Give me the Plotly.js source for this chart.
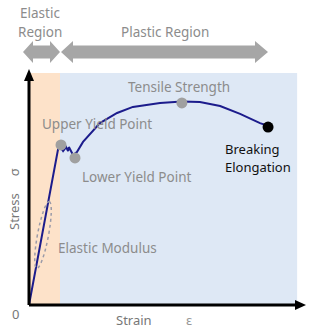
<!DOCTYPE html><html><head><meta charset="utf-8">
<script src="https://cdn.plot.ly/plotly-3.0.1.min.js"></script>
<style>html,body{margin:0;padding:0;background:#fff}#c{width:320px;height:335px}</style>
</head><body><div id="c"></div><script>
// Stress-strain curve (arbitrary units, 0-100)
const strain = [0,10.5,11.55,12.3,13.4,14.1,14.4,15.2,15.9,17.3,19.5,25.6,31.8,37.5,47.3,55.2,61.7,69.0,76.2,83.4,86.3];
const stress = [0,66.4,66.8,65.5,67.2,65.5,67.2,65.1,63.8,65.1,69.4,77.4,81.7,84.3,86.0,86.6,86.4,84.7,81.3,77.4,76.2];
const keyNames = ['Upper Yield Point','Lower Yield Point','Tensile Strength'];
const keyStrain = [11.55,16.6,55.2];
const keyStress = [68.1,62.6,86.0];
const breakStrain = [86.3];
const breakStress = [75.7];
const elasticEnd = 11.2, plasticEnd = 96.8, regionTop = 98.7;

const L=29, T=70, W=277, H=235;
const X = px => (px-L)/W, Y = py => (T+H-py)/H;
const pth = pts => 'M' + pts.map(p=>X(p[0])+','+Y(p[1])).join(' L') + ' Z';
function ellipsePath(cx,cy,a,b,ang){
  const k=0.5523, ca=Math.cos(ang), sa=Math.sin(ang);
  const P=(u,v)=>{const px=cx+u*ca-v*sa, py=cy+u*sa+v*ca; return X(px)+','+Y(py);};
  return `M${P(a,0)} C${P(a,k*b)} ${P(k*a,b)} ${P(0,b)} C${P(-k*a,b)} ${P(-a,k*b)} ${P(-a,0)} C${P(-a,-k*b)} ${P(-k*a,-b)} ${P(0,-b)} C${P(k*a,-b)} ${P(a,-k*b)} ${P(a,0)} Z`;
}
const gray='#a6a6a6', tgray='#8c8c8c', F='Noto Sans';
const shapes = [
  {type:'rect',xref:'x',yref:'y',x0:0,x1:elasticEnd,y0:0,y1:regionTop,fillcolor:'#fde2c9',line:{width:0},layer:'below'},
  {type:'rect',xref:'x',yref:'y',x0:elasticEnd,x1:plasticEnd,y0:0,y1:regionTop,fillcolor:'#dee8f5',line:{width:0},layer:'below'},
  {type:'path',xref:'paper',yref:'paper',path:pth([[23,52],[33,41],[33,45.5],[50,45.5],[50,41],[60,52],[50,63],[50,58.5],[33,58.5],[33,63]]),fillcolor:gray,line:{width:0}},
  {type:'path',xref:'paper',yref:'paper',path:pth([[61,52],[73,41],[73,45.5],[255,45.5],[255,41],[268,52],[255,63],[255,58.5],[73,58.5],[73,63]]),fillcolor:gray,line:{width:0}},
  {type:'line',xref:'paper',yref:'paper',x0:X(29),x1:X(297),y0:Y(305),y1:Y(305),line:{color:'#000',width:3}},
  {type:'path',xref:'paper',yref:'paper',path:pth([[295,300],[306,305],[295,310]]),fillcolor:'#000',line:{width:0}},
  {type:'line',xref:'paper',yref:'paper',x0:X(29),x1:X(29),y0:Y(305),y1:Y(80),line:{color:'#000',width:3}},
  {type:'path',xref:'paper',yref:'paper',path:pth([[24,81],[29,69],[34,81]]),fillcolor:'#000',line:{width:0}},
  {type:'path',xref:'paper',yref:'paper',path:ellipsePath(43,235,34,5.5,Math.atan2(-64,12)),line:{color:'#9a9aa8',width:1.5,dash:'dot'}}
];
const ann = (t,px,py,o={}) => Object.assign({text:t,xref:'paper',yref:'paper',x:X(px),y:Y(py),showarrow:false,xanchor:'center',yanchor:'middle',font:{family:F,size:13.5,color:tgray}},o);
const annotations = [
  ann('Elastic',40,13,{font:{family:F,size:13.5,color:tgray}}),
  ann('Region',40,32,{font:{family:F,size:13.5,color:tgray}}),
  ann('Plastic Region',165,32,{font:{family:F,size:13.5,color:tgray}}),
  ann(keyNames[2],179,87),
  ann(keyNames[0],97,124),
  ann(keyNames[1],136,177),
  ann('Breaking',223,149,{xanchor:'left',font:{family:F,size:13,color:'#111'}}),
  ann('Elongation',223,167,{xanchor:'left',font:{family:F,size:13,color:'#111'}}),
  ann('Elastic Modulus',107.5,248),
  ann('Stress&nbsp;&nbsp;&nbsp;&nbsp;&nbsp;σ',14,199,{textangle:-90,font:{family:F,size:13,color:'#777'}}),
  ann('Strain',134,320,{font:{family:F,size:13,color:'#777'}}),
  ann('ε',189,320,{font:{family:F,size:13,color:'#999'}}),
  ann('0',15,314,{font:{family:F,size:13,color:'#777'}})
];
const data = [
  {x:strain,y:stress,mode:'lines',line:{color:'#1c1c8c',width:2},hoverinfo:'skip'},
  {x:keyStrain,y:keyStress,mode:'markers',marker:{color:'#a0a0a0',size:11},hoverinfo:'skip'},
  {x:breakStrain,y:breakStress,mode:'markers',marker:{color:'#000',size:11},hoverinfo:'skip'}
];
Plotly.newPlot('c',data,{
  width:320,height:335,margin:{l:L,r:320-L-W,t:T,b:335-T-H},
  paper_bgcolor:'#fff',plot_bgcolor:'rgba(0,0,0,0)',showlegend:false,
  xaxis:{range:[0,100],visible:false,fixedrange:true},
  yaxis:{range:[0,100],visible:false,fixedrange:true},
  shapes:shapes,annotations:annotations
},{displayModeBar:false,staticPlot:true});
</script></body></html>
